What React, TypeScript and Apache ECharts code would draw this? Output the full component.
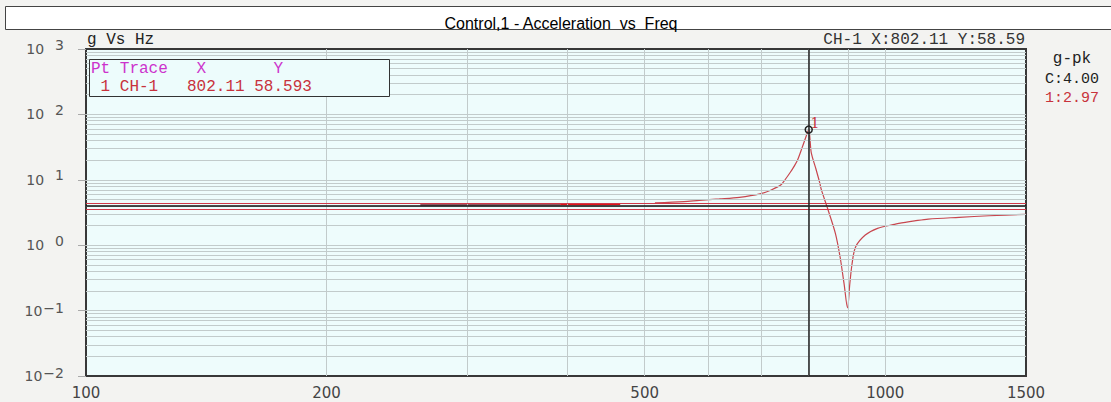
import React, { useEffect, useRef } from "react";
import * as echarts from "echarts";

// ---- data ----
const xTickLabels = [100, 200, 500, 1000, 1500];
const xGridFreqs = [200, 300, 400, 500, 600, 700, 800, 900, 1000];
const yTickValues = [0.01, 0.1, 1, 10, 100, 1000];
const yMultipliers = [1, 2, 3, 4, 5, 6, 7, 8, 9];

// early sweep segments (Hz, g)
const seg1Freq = [262, 300, 340, 392];
const seg1Val = [4.2, 4.2, 4.21, 4.22];
const seg2Freq = [392, 430, 466];
const seg2Val = [4.23, 4.24, 4.25];

// main response (Hz, g)
const mainFreq = [
  515, 560, 585, 620, 657, 697, 720, 740, 750, 760, 770, 777, 787, 795, 802.11,
  808, 818.5, 828, 832, 846, 866, 878, 888, 897, 903, 909, 918, 944, 978, 1026,
  1040, 1088, 1132, 1237, 1349, 1500,
];
const mainVal = [
  4.45, 4.65, 4.85, 5.1, 5.4, 6.1, 7.0, 8.3, 10.2, 12.8, 16.5, 20.3, 31, 44,
  58.593, 26, 15, 9.0, 7.0, 3.8, 1.53, 0.66, 0.26, 0.11, 0.26, 0.53, 0.94, 1.43,
  1.81, 2.08, 2.16, 2.35, 2.51, 2.67, 2.82, 2.97,
];

const controlLevel = 4.0;
const alarmHigh = 4.45;
const alarmLow = 3.57;
const cursorX = 802.11;
const cursorY = 58.593;

const zip = (xs: number[], ys: number[]) => xs.map((x, i) => [x, ys[i]]);

const yGridValues: number[] = [];
yTickValues.slice(0, -1).forEach((d) =>
  yMultipliers.forEach((m) => {
    const v = +(d * m).toPrecision(3);
    if (v > 0.01) yGridValues.push(v);
  })
);

const MONO = "'Liberation Mono', 'DejaVu Sans Mono', monospace";
const SANS = "'DejaVu Sans', sans-serif";

export default function App() {
  const ref = useRef<HTMLDivElement>(null);

  useEffect(() => {
    if (!ref.current) return;
    const chart = echarts.init(ref.current, undefined, { renderer: "svg" });
    const option: any = {
      animation: false,
      backgroundColor: "#F3F3F1",
      grid: {
        left: 86,
        top: 49,
        width: 940,
        height: 327,
        show: true,
        backgroundColor: "#EEFCFC",
        borderColor: "#383838",
        borderWidth: 2,
      },
      xAxis: {
        type: "log",
        logBase: 10,
        min: 100,
        max: 1500,
        axisLine: { show: false },
        axisTick: { show: false },
        splitLine: { show: false },
        axisLabel: {
          customValues: xTickLabels,
          formatter: (v: number) => String(Math.round(v)),
          fontFamily: SANS,
          fontSize: 15,
          color: "#444",
          margin: 9,
        },
      },
      yAxis: {
        type: "log",
        logBase: 10,
        min: 0.01,
        max: 1000,
        axisLine: { show: false },
        axisTick: {
          show: true,
          length: 8,
          lineStyle: { color: "#aaa" },
          customValues: yTickValues,
        },
        splitLine: { show: false },
        axisLabel: {
          customValues: yTickValues,
          margin: 22,
          formatter: (v: number) => {
            const e = Math.round(Math.log10(v));
            return e >= 0 ? `{b|10}{sp|${e}}` : `{b|10}{sn|\u2212${-e}}`;
          },
          rich: {
            b: { fontSize: 14, color: "#555", fontFamily: SANS },
            sp: {
              fontSize: 14,
              color: "#555",
              fontFamily: SANS,
              padding: [0, 0, 9, 11],
            },
            sn: {
              fontSize: 14,
              color: "#555",
              fontFamily: SANS,
              padding: [0, 0, 6, 1],
            },
          },
        },
      },
      title: {
        text: "Control,1 - Acceleration  vs  Freq",
        left: 556,
        top: 10,
        textAlign: "center",
        textStyle: {
          fontFamily: "'Liberation Sans', Arial, sans-serif",
          fontSize: 16,
          fontWeight: "normal",
          color: "#000",
        },
        z: 10,
      },
      graphic: [
        {
          type: "rect",
          z: 0,
          shape: { x: 5.5, y: 6.5, width: 1110, height: 23 },
          style: { fill: "#fff", stroke: "#444", lineWidth: 1 },
        },
        {
          type: "text",
          x: 87,
          y: 40,
          style: {
            text: "g Vs Hz",
            font: `16px ${MONO}`,
            fill: "#222",
            verticalAlign: "middle",
          },
        },
        {
          type: "text",
          x: 1025,
          y: 40,
          style: {
            text: "CH-1 X:802.11 Y:58.59",
            font: `16px ${MONO}`,
            fill: "#333",
            align: "right",
            verticalAlign: "middle",
          },
        },
        {
          type: "rect",
          z: 50,
          shape: { x: 89.5, y: 59.5, width: 300, height: 37 },
          style: { fill: "#EDFCFC", stroke: "#333", lineWidth: 1 },
        },
        {
          type: "text",
          z: 51,
          x: 91,
          y: 69,
          style: {
            text: "Pt Trace   X       Y",
            font: `16px ${MONO}`,
            fill: "#CC33CC",
            verticalAlign: "middle",
          },
        },
        {
          type: "text",
          z: 51,
          x: 91,
          y: 87,
          style: {
            text: " 1 CH-1   802.11 58.593",
            font: `16px ${MONO}`,
            fill: "#C8323C",
            verticalAlign: "middle",
          },
        },
        {
          type: "text",
          x: 1072,
          y: 59,
          style: {
            text: "g-pk",
            font: `16px ${MONO}`,
            fill: "#222",
            align: "center",
            verticalAlign: "middle",
          },
        },
        {
          type: "text",
          x: 1072,
          y: 79,
          style: {
            text: "C:4.00",
            font: `15px ${MONO}`,
            fill: "#222",
            align: "center",
            verticalAlign: "middle",
          },
        },
        {
          type: "text",
          x: 1072,
          y: 98,
          style: {
            text: "1:2.97",
            font: `15px ${MONO}`,
            fill: "#C8323C",
            align: "center",
            verticalAlign: "middle",
          },
        },
      ],
      series: [
        {
          name: "grid",
          type: "line",
          data: [],
          z: 1,
          silent: true,
          markLine: {
            silent: true,
            symbol: ["none", "none"],
            label: { show: false },
            lineStyle: { color: "#C2CBCB", width: 1, type: "solid" },
            data: [
              ...yGridValues.map((v) => ({ yAxis: v })),
              ...xGridFreqs.map((v) => ({ xAxis: v })),
            ],
          },
        },
        {
          name: "limits",
          type: "line",
          data: [],
          z: 2,
          silent: true,
          markLine: {
            silent: true,
            symbol: ["none", "none"],
            label: { show: false },
            data: [
              { yAxis: alarmHigh, lineStyle: { color: "#D03848", width: 1.2, type: "solid" } },
              { yAxis: alarmLow, lineStyle: { color: "#D03848", width: 1.2, type: "solid" } },
              { yAxis: controlLevel, lineStyle: { color: "#111", width: 1.5, type: "solid" } },
              { xAxis: cursorX, lineStyle: { color: "#222", width: 1.5, type: "solid" } },
            ],
          },
        },
        {
          name: "seg1",
          type: "line",
          z: 3,
          showSymbol: false,
          data: zip(seg1Freq, seg1Val),
          lineStyle: { color: "#8E5560", width: 2.5 },
        },
        {
          name: "seg2",
          type: "line",
          z: 3,
          showSymbol: false,
          data: zip(seg2Freq, seg2Val),
          lineStyle: { color: "#E0141C", width: 2 },
        },
        {
          name: "CH-1",
          type: "line",
          z: 4,
          showSymbol: false,
          smooth: 0.3,
          data: zip(mainFreq, mainVal),
          lineStyle: { color: "#C8464E", width: 1.2 },
          markPoint: {
            symbol: "circle",
            symbolSize: 7,
            itemStyle: { color: "rgba(0,0,0,0)", borderColor: "#222", borderWidth: 1.5 },
            label: {
              show: true,
              formatter: "1",
              position: [6, -9],
              align: "left",
              verticalAlign: "top",
              color: "#C8323C",
              fontSize: 14,
              fontFamily: "'DejaVu Serif', serif",
            },
            data: [{ coord: [cursorX, cursorY] }],
          },
        },
      ],
    };
    chart.setOption(option);
    return () => chart.dispose();
  }, []);

  return (
    <div
      ref={ref}
      style={{ position: "absolute", left: 0, top: 0, width: 1111, height: 402 }}
    />
  );
}
